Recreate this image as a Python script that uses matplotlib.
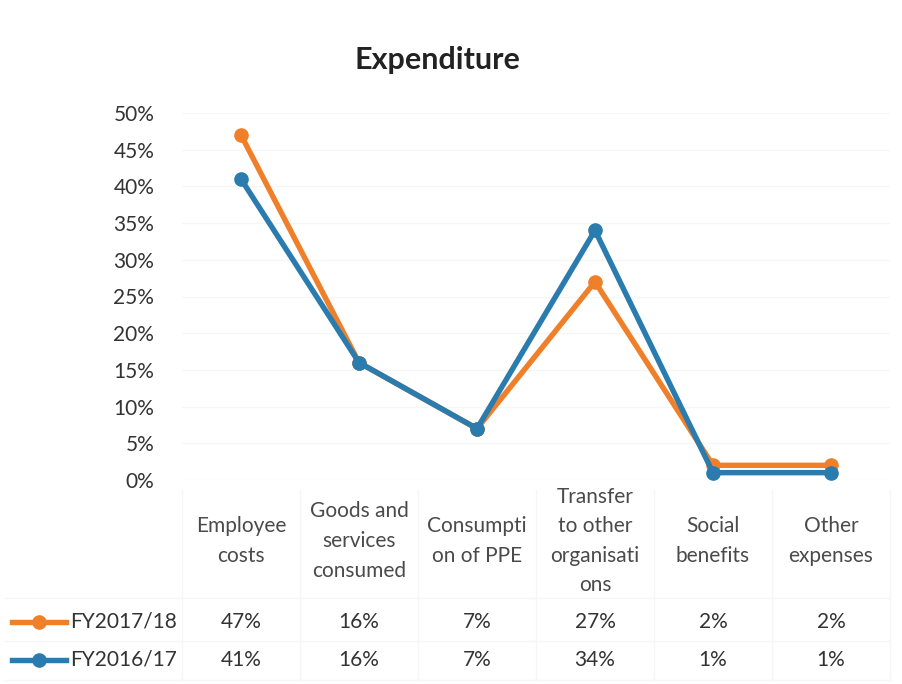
import matplotlib.pyplot as plt
from matplotlib.lines import Line2D
import matplotlib.transforms as mtransforms

# Expenditure shares by category (percent)
categories = ["Employee\ncosts", "Goods and\nservices\nconsumed", "Consumpti\non of PPE",
              "Transfer\nto other\norganisati\nons", "Social\nbenefits", "Other\nexpenses"]
fy2017 = [47, 16, 7, 27, 2, 2]
fy2016 = [41, 16, 7, 34, 1, 1]
series_names = ["FY2017/18", "FY2016/17"]
yticks = [0, 5, 10, 15, 20, 25, 30, 35, 40, 45, 50]

orange = "#F07F2A"
blue = "#2A7BAE"
text_col = "#333333"
grid_col = "#F6F6F6"

plt.rcParams['font.family'] = ['Lato', 'DejaVu Sans']

fig = plt.figure(figsize=(9.03, 6.84), dpi=100)
ax = fig.add_axes([182 / 903, 1 - 480 / 684, 708 / 903, 367 / 684])

x = list(range(len(categories)))
ax.plot(x, fy2017, color=orange, lw=3.9, marker="o", ms=9.5, solid_capstyle="round", zorder=3)
ax.plot(x, fy2016, color=blue, lw=3.9, marker="o", ms=9.5, solid_capstyle="round", zorder=4)

ax.set_xlim(-0.5, len(categories) - 0.5)
ax.set_ylim(0, 50)
ax.set_yticks(yticks)
ax.set_yticklabels([f"{v}%" for v in yticks], fontsize=15, color=text_col)
ax.tick_params(axis="y", length=0, pad=20)
ax.set_xticks([])
ax.grid(axis="y", color=grid_col, lw=1)
ax.set_axisbelow(True)
for s in ax.spines.values():
    s.set_visible(False)

fig.text(437 / 903, 1 - 60 / 684, "Expenditure", ha="center", va="center",
         fontsize=22, fontweight="bold", color="#222222")

# data table below the plot
trans = mtransforms.blended_transform_factory(ax.transData, fig.transFigure)
for i, cat in enumerate(categories):
    ax.text(i, 1 - 541 / 684, cat, transform=trans, ha="center", va="center",
            fontsize=15, color="#4a4a4a", linespacing=1.6)
    ax.text(i, 1 - 622 / 684, f"{fy2017[i]}%", transform=trans, ha="center", va="center",
            fontsize=15, color=text_col)
    ax.text(i, 1 - 660 / 684, f"{fy2016[i]}%", transform=trans, ha="center", va="center",
            fontsize=15, color=text_col)

# faint table borders
for b in [i - 0.5 for i in range(len(categories) + 1)]:
    ax.add_line(Line2D([b, b], [1 - 490 / 684, 1 - 680 / 684], transform=trans,
                       color=grid_col, lw=1, clip_on=False))
for yy in [598, 641, 680]:
    fig.add_artist(Line2D([5 / 903, 890 / 903], [1 - yy / 684] * 2, color=grid_col, lw=1))

# legend keys in the table rows
for yy, col, name in [(622, orange, series_names[0]), (660, blue, series_names[1])]:
    fy = 1 - yy / 684
    fig.add_artist(Line2D([12 / 903, 66 / 903], [fy, fy], color=col, lw=3.9))
    fig.add_artist(Line2D([39 / 903], [fy], color=col, marker="o", ms=9.5))
    fig.text(70 / 903, fy, name, ha="left", va="center", fontsize=15, color=text_col)

fig.savefig("out.png", dpi=100, facecolor="white")
